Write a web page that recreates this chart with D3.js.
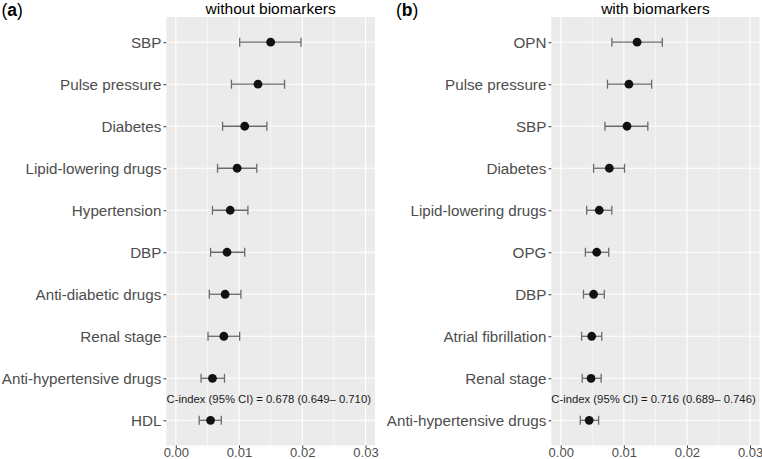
<!DOCTYPE html>
<html>
<head>
<meta charset="utf-8">
<script src="https://cdn.jsdelivr.net/npm/d3@7"></script>
<style>
  body { margin: 0; background: #fff; }
  svg { display: block; font-family: "Liberation Sans", Arial, sans-serif; }
</style>
</head>
<body>
<svg id="chart" width="762" height="459"></svg>
<script>
// panel (a): without biomarkers
const labelsA = ['SBP', 'Pulse pressure', 'Diabetes', 'Lipid-lowering drugs', 'Hypertension',
  'DBP', 'Anti-diabetic drugs', 'Renal stage', 'Anti-hypertensive drugs', 'HDL'];
const estA  = [0.0150, 0.0130, 0.0109, 0.0097, 0.0086, 0.0081, 0.0078, 0.0076, 0.0058, 0.0055];
const lowA  = [0.0101, 0.0088, 0.0074, 0.0066, 0.0058, 0.0055, 0.0053, 0.0051, 0.0040, 0.0037];
const highA = [0.0198, 0.0172, 0.0144, 0.0128, 0.0114, 0.0109, 0.0103, 0.0101, 0.0077, 0.0072];

// panel (b): with biomarkers
const labelsB = ['OPN', 'Pulse pressure', 'SBP', 'Diabetes', 'Lipid-lowering drugs', 'OPG',
  'DBP', 'Atrial fibrillation', 'Renal stage', 'Anti-hypertensive drugs'];
const estB  = [0.0121, 0.0108, 0.0105, 0.0077, 0.0061, 0.0057, 0.0052, 0.0049, 0.0048, 0.0045];
const lowB  = [0.0081, 0.0074, 0.0070, 0.0052, 0.0041, 0.0039, 0.0036, 0.0033, 0.0034, 0.0031];
const highB = [0.0161, 0.0144, 0.0138, 0.0101, 0.0081, 0.0076, 0.0069, 0.0065, 0.0064, 0.0060];

const xTicks = [0, 0.01, 0.02, 0.03];
const xMinor = [0.005, 0.015, 0.025];

const svg = d3.select('#chart');
const panelTop = 17, panelBottom = 445.5;

function drawPanel(opts) {
  const { left, right, labels, est, low, high, title, tag, tagX, note } = opts;

  const x = d3.scaleLinear().domain([-0.0015, 0.0315]).range([left, right]);
  const y = d3.scalePoint().domain(labels).range([panelTop, panelBottom]).padding(0.6);

  const g = svg.append('g');

  g.append('rect')
    .attr('x', left).attr('y', panelTop)
    .attr('width', right - left).attr('height', panelBottom - panelTop)
    .attr('fill', '#ebebeb');

  g.selectAll('.minor')
    .data(xMinor)
    .enter()
    .append('line')
    .attr('x1', d => x(d)).attr('x2', d => x(d))
    .attr('y1', panelTop).attr('y2', panelBottom)
    .attr('stroke', '#fff').attr('stroke-width', 0.55);

  g.selectAll('.major')
    .data(xTicks)
    .enter()
    .append('line')
    .attr('x1', d => x(d)).attr('x2', d => x(d))
    .attr('y1', panelTop).attr('y2', panelBottom)
    .attr('stroke', '#fff').attr('stroke-width', 1.1);

  g.selectAll('.hgrid')
    .data(labels)
    .enter()
    .append('line')
    .attr('x1', left).attr('x2', right)
    .attr('y1', d => y(d)).attr('y2', d => y(d))
    .attr('stroke', '#fff').attr('stroke-width', 1.1);

  // y axis
  const yAxis = g.append('g')
    .attr('transform', `translate(${left},0)`)
    .call(d3.axisLeft(y).tickSize(2.75).tickPadding(2.2));
  yAxis.select('.domain').remove();
  yAxis.selectAll('line').attr('stroke', '#333').attr('stroke-width', 1);
  yAxis.selectAll('text')
    .attr('fill', '#4d4d4d')
    .style('font-size', '15.2px')
    .style('font-family', '"Liberation Sans", Arial, sans-serif');

  // x axis (labels nudged up a little so they stay inside the frame)
  const xAxis = g.append('g')
    .attr('transform', `translate(0,${panelBottom})`)
    .call(d3.axisBottom(x).tickValues(xTicks).tickFormat(d3.format('.2f')).tickSize(2.75).tickPadding(-0.3));
  xAxis.select('.domain').remove();
  xAxis.selectAll('line').attr('stroke', '#333').attr('stroke-width', 1);
  xAxis.selectAll('text')
    .attr('fill', '#4d4d4d')
    .style('font-size', '13px')
    .style('font-family', '"Liberation Sans", Arial, sans-serif');

  // error bars
  const rows = labels.map((d, i) => ({ label: d, est: est[i], low: low[i], high: high[i] }));
  const bar = g.selectAll('.bar')
    .data(rows)
    .enter()
    .append('g')
    .attr('stroke', '#6b6b6b')
    .attr('stroke-width', 1.3);
  bar.append('line')
    .attr('x1', d => x(d.low)).attr('x2', d => x(d.high))
    .attr('y1', d => y(d.label)).attr('y2', d => y(d.label));
  bar.append('line')
    .attr('x1', d => x(d.low)).attr('x2', d => x(d.low))
    .attr('y1', d => y(d.label) - 4.5).attr('y2', d => y(d.label) + 4.5);
  bar.append('line')
    .attr('x1', d => x(d.high)).attr('x2', d => x(d.high))
    .attr('y1', d => y(d.label) - 4.5).attr('y2', d => y(d.label) + 4.5);

  g.selectAll('.pt')
    .data(rows)
    .enter()
    .append('circle')
    .attr('cx', d => x(d.est))
    .attr('cy', d => y(d.label))
    .attr('r', 4.4)
    .attr('fill', '#111');

  // C-index annotation between the last two rows
  const n = labels.length;
  g.append('text')
    .attr('x', x(0.0147))
    .attr('y', (y(labels[n - 2]) + y(labels[n - 1])) / 2)
    .attr('dy', '0.35em')
    .attr('text-anchor', 'middle')
    .attr('font-size', '11.3px')
    .attr('fill', '#1a1a1a')
    .text(note);

  g.append('text')
    .attr('x', (left + right) / 2)
    .attr('y', 14)
    .attr('text-anchor', 'middle')
    .attr('font-size', '15.5px')
    .attr('fill', '#000')
    .text(title);

  const t = g.append('text')
    .attr('x', tagX)
    .attr('y', 16)
    .attr('font-size', '17.5px')
    .attr('fill', '#000');
  t.append('tspan').text('(');
  t.append('tspan').attr('font-weight', 'bold').text(tag);
  t.append('tspan').text(')');
}

drawPanel({
  left: 166.3, right: 375, labels: labelsA, est: estA, low: lowA, high: highA,
  title: 'without biomarkers', tag: 'a', tagX: 1.5,
  note: 'C-index (95% CI) = 0.678 (0.649\u2013 0.710)'
});

drawPanel({
  left: 551.3, right: 759.5, labels: labelsB, est: estB, low: lowB, high: highB,
  title: 'with biomarkers', tag: 'b', tagX: 396,
  note: 'C-index (95% CI) = 0.716 (0.689\u2013 0.746)'
});
</script>
</body>
</html>
